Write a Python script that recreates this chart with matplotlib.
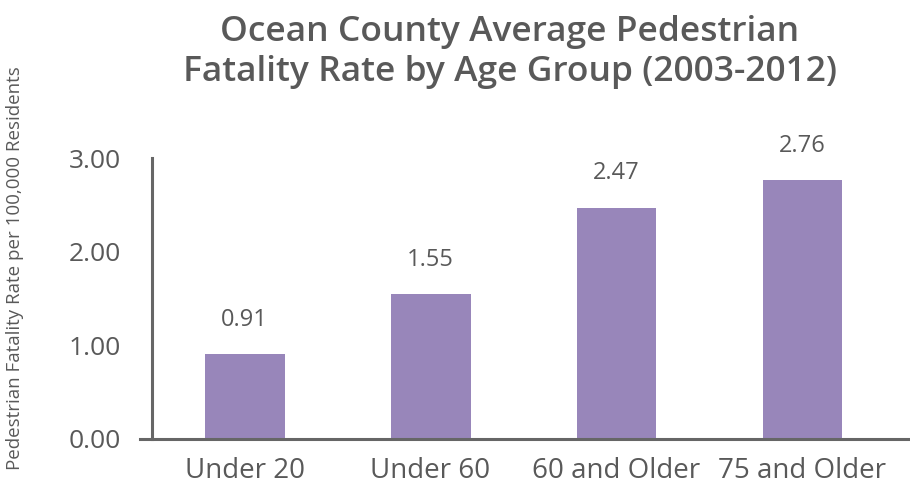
import matplotlib.pyplot as plt

categories = ["Under 20", "Under 60", "60 and Older", "75 and Older"]
rates = [0.91, 1.55, 2.47, 2.76]
yticks = [0.0, 1.0, 2.0, 3.0]

bar_color = "#9886BA"
text_color = "#595959"
axis_color = "#666666"

plt.rcParams["font.family"] = ["Open Sans", "DejaVu Sans"]

fig = plt.figure(figsize=(9.1, 4.93), dpi=100)
ax = fig.add_axes([140 / 910, 1 - 439 / 493, 1 - 140 / 910, (439 - 158) / 493])

x = list(range(len(categories)))
bars = ax.bar(x, rates, width=0.43, color=bar_color, zorder=2)

for xi, v in zip(x, rates):
    ax.annotate(f"{v:.2f}", (xi, v), xytext=(0, 16), textcoords="offset points",
                ha="center", va="bottom", fontsize=17, color=text_color)

ax.set_xlim(-0.562, 3.578)
ax.set_ylim(0, 3.0)
ax.set_yticks(yticks)
ax.set_yticklabels([f"{t:.2f}" for t in yticks])
ax.set_xticks(x)
ax.set_xticklabels(categories)
ax.tick_params(axis="both", length=0, labelsize=19, colors=text_color)
ax.tick_params(axis="x", labelsize=20, pad=13)
ax.tick_params(axis="y", pad=22)

for s in ["top", "right"]:
    ax.spines[s].set_visible(False)
ax.spines["left"].set_position(("data", -0.5))
ax.spines["left"].set_color(axis_color)
ax.spines["left"].set_linewidth(2.2)
ax.spines["bottom"].set_color(axis_color)
ax.spines["bottom"].set_linewidth(2.2)

fig.text(15 / 910, 1 - 268 / 493, "Pedestrian Fatality Rate per 100,000 Residents",
         rotation=90, ha="center", va="center", fontsize=13.5, color=text_color)

fig.text(510 / 910, 1 - 52 / 493, "Ocean County Average Pedestrian\nFatality Rate by Age Group (2003-2012)",
         ha="center", va="center", fontsize=25.5, fontweight="semibold",
         color=text_color, linespacing=1.2)

fig.savefig("out.png", dpi=100)
